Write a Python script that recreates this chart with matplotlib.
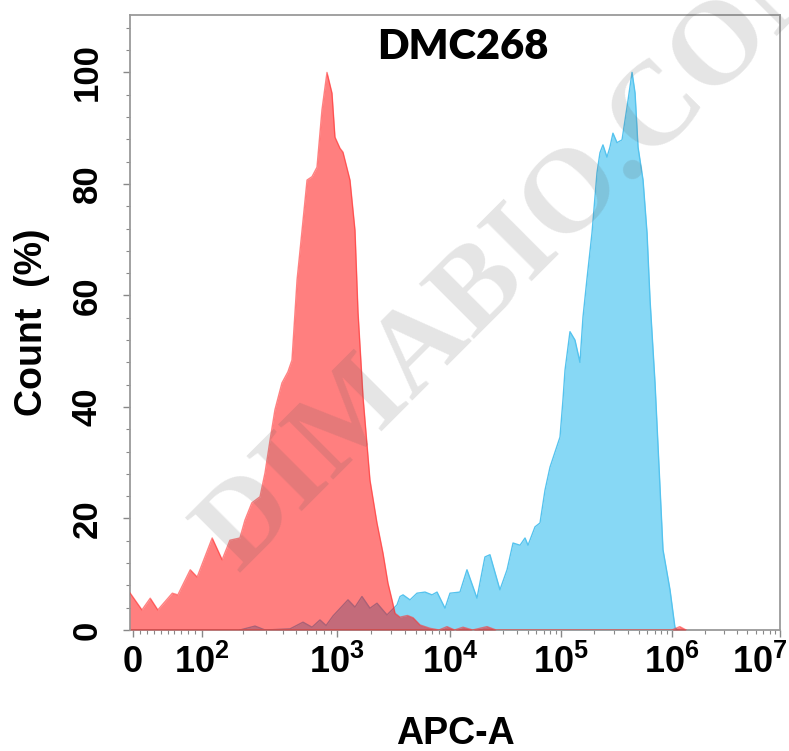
import numpy as np
import matplotlib
matplotlib.use("Agg")
import matplotlib.pyplot as plt
import matplotlib.transforms as mtransforms
from matplotlib.ticker import FixedLocator, NullFormatter

plt.rcParams['font.family'] = ['Liberation Sans', 'DejaVu Sans']
plt.rcParams['mathtext.fontset'] = 'custom'
plt.rcParams['mathtext.rm'] = 'Liberation Sans:bold'
plt.rcParams['mathtext.bf'] = 'Liberation Sans:bold'
plt.rcParams['mathtext.it'] = 'Liberation Sans:bold'

# ---------------- data ----------------
title = "DMC268"
x_label = "APC-A"
y_label = "Count  (%)"

# control (red) histogram: APC-A value, count (%)
red_x = [-4, 13, 25, 36, 57, 65, 83, 93, 119, 141, 161, 191, 208, 234, 269, 293,
         319, 347, 391, 433, 464, 506, 551, 600, 653, 711, 774, 843, 918, 966,
         1063, 1130, 1303, 1443, 1535, 1700, 1958, 2259, 2553, 2826, 3069, 3262,
         3611, 4200, 4709, 5429, 6655, 8000, 9400, 11000, 13100, 16000, 21550,
         26000, 1.0e6, 1.18e6, 1.35e6]
red_y = [6.6, 3.6, 5.7, 3.6, 6.6, 6.3, 10.8, 9.5, 16.5, 12.6, 16.1, 16.5, 19.7,
         22.8, 23.9, 28.2, 34.0, 39.5, 44.3, 46.3, 48.4, 62.8, 71.7, 80.7, 81.3,
         83.0, 93.3, 100.0, 96.3, 88.4, 86.4, 85.7, 80.7, 71.7, 57.0, 41.8, 26.9,
         19.2, 13.8, 8.4, 5.4, 3.0, 2.3, 2.6, 2.2, 0.9, 0.3, 0.0, 0.6, 0.0, 0.5,
         0.0, 0.6, 0.0, 0.0, 0.6, 0.0]

# DMC268 stained (blue) histogram
blue_x = [191, 247, 293, 449, 560, 653, 748, 830, 933, 1251, 1443, 1663, 1958,
          2259, 2770, 3396, 3611, 3840, 4428, 5105, 6012, 6932, 7677, 9036,
          10000, 12300, 14220, 17500, 20650, 22900, 28180, 32660, 36980, 42750,
          47400, 50450, 58340, 64700, 71800, 79600, 97950, 104200, 108700,
          120500, 133600, 148200, 157800, 171500, 190200, 211000, 224500,
          238800, 259500, 276000, 293800, 319600, 354600, 401800, 436600,
          464600, 494300, 548300, 595700, 634100, 703100, 829500, 959500,
          1066000, 1136000]
blue_y = [0.0, 0.7, 0.0, 0.2, 1.4, 0.5, 1.8, 0.8, 2.5, 5.4, 4.1, 6.0, 3.9, 4.8,
          2.7, 4.5, 6.0, 6.3, 5.4, 6.6, 6.8, 6.3, 6.8, 3.9, 6.6, 6.8, 10.8, 5.7,
          13.1, 13.5, 7.2, 10.8, 15.6, 15.2, 16.5, 15.2, 18.5, 19.2, 25.1, 29.2,
          34.6, 41.3, 46.6, 53.5, 52.0, 48.0, 56.1, 63.0, 71.2, 82.0, 85.6, 87.0,
          84.8, 86.6, 89.1, 87.4, 87.9, 95.0, 100.0, 96.3, 86.6, 80.7, 71.2,
          59.2, 44.3, 14.4, 7.2, 0.4, 0.0]

x_ticks = [0, 1e2, 1e3, 1e4, 1e5, 1e6, 1e7]
x_ticklabels = ["0", r"$\mathbf{10^{2}}$", r"$\mathbf{10^{3}}$", r"$\mathbf{10^{4}}$",
                r"$\mathbf{10^{5}}$", r"$\mathbf{10^{6}}$", r"$\mathbf{10^{7}}$"]
y_ticks = [0, 20, 40, 60, 80, 100]
y_ticklabels = ["0", "20", "40", "60", "80", "100"]

# ---------------- biexponential-like axis scale ----------------
KNOT_DEC = [2, 3, 4, 5, 6, 7, 8]
KNOT_POS = [69, 204, 317, 428, 539, 647, 755]


def fwd(v):
    v = np.asarray(v, dtype=float)
    lin = v * 0.69
    lg = np.interp(np.log10(np.maximum(v, 100.0)), KNOT_DEC, KNOT_POS)
    return np.where(v <= 100, lin, lg)


def inv(p):
    p = np.asarray(p, dtype=float)
    lin = p / 0.69
    lg = 10 ** np.interp(np.maximum(p, 69.0), KNOT_POS, KNOT_DEC)
    return np.where(p <= 69, lin, lg)


fig = plt.figure(figsize=(7.89, 7.51), dpi=100)
ax = fig.add_axes([130 / 789, 1 - 630 / 751, 650 / 789, 615 / 751])
ax.set_xscale('function', functions=(fwd, inv))

# blue first, red semi-transparent on top
ax.fill_between(blue_x, blue_y, 0, color='#87D8F5', lw=0, zorder=2)
ax.plot(blue_x, blue_y, color='#55C3EE', lw=1.0, zorder=2.1)
ax.fill_between(red_x, red_y, 0, color='#FF0000', alpha=0.5, lw=0, zorder=3)
ax.plot(red_x, red_y, color='#FF3030', lw=1.0, alpha=0.6, zorder=3.1)

ax.set_xlim(-4.35, 1e7)
ax.set_ylim(0, 110.3)

ax.xaxis.set_major_locator(FixedLocator(x_ticks))
ax.set_xticklabels(x_ticklabels)
minor_x = [10 * k for k in range(1, 10)] + [k * 10 ** d for d in range(2, 7) for k in range(2, 10)]
ax.xaxis.set_minor_locator(FixedLocator(minor_x))
ax.xaxis.set_minor_formatter(NullFormatter())

ax.yaxis.set_major_locator(FixedLocator(y_ticks))
ax.set_yticklabels(y_ticklabels)
ax.yaxis.set_minor_locator(FixedLocator([v for v in range(4, 110, 4) if v % 20]))

for s in ax.spines.values():
    s.set_color('#9A9A9A')
    s.set_linewidth(1.3)

ax.tick_params(which='major', length=5, width=1.0, color='#888888')
ax.tick_params(which='minor', length=3, width=0.8, color='#888888')
ax.tick_params(axis='x', which='major', labelsize=26, pad=6)
ax.tick_params(axis='y', which='major', labelsize=25, pad=14, labelrotation=90)
for lab in ax.get_yticklabels():
    lab.set_fontweight('bold')
    lab.set_va('center')
for lab in ax.get_xticklabels():
    lab.set_fontweight('bold')

# last decade label is shifted inward like the original
last = ax.get_xticklabels()[-1]
last.set_transform(last.get_transform() + mtransforms.ScaledTranslation(-0.2, 0, fig.dpi_scale_trans))

ax.set_xlabel(x_label, fontsize=27, fontweight='bold', labelpad=25)
ax.set_ylabel(y_label, fontsize=27, fontweight='bold', labelpad=15)

ax.text(0.512, 0.948, title, transform=ax.transAxes, ha='center', va='center',
        fontsize=30, fontweight='heavy', family=['Lato', 'DejaVu Sans'], zorder=5)

fig.text(0.668, 0.676, 'DIMABIO.COM', rotation=45, ha='center', va='center',
         fontsize=86, family=['Liberation Serif', 'DejaVu Serif'], fontweight='bold',
         color='#5A5A5A', alpha=0.16, zorder=10)

fig.savefig('out.png', dpi=100)
